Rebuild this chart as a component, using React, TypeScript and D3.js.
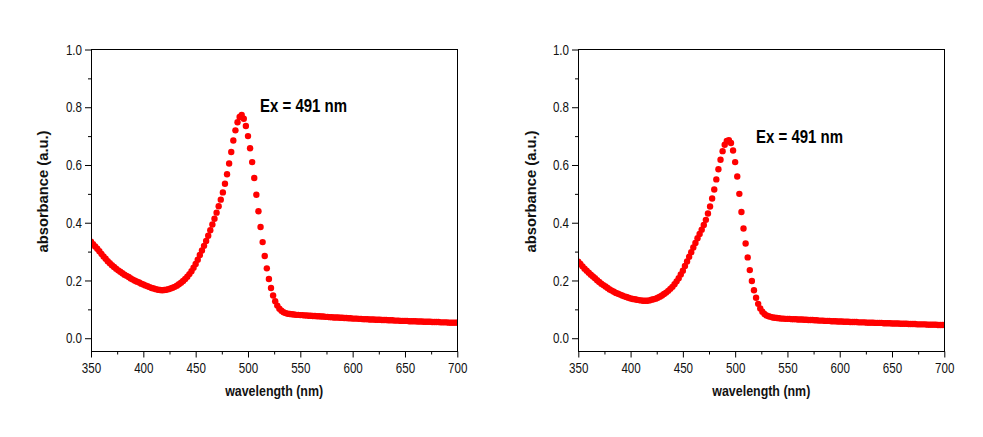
import { useEffect, useRef } from 'react'
import * as d3 from 'd3'

// wavelength grid of the measured spectra (nm)
const WAVELENGTH = d3.range(350, 701, 2)

// absorbance, left spectrum (one value per 2 nm, 350..700)
const ABS_LEFT = [
  0.334, 0.326, 0.318, 0.310, 0.301, 0.292, 0.283, 0.275, 0.267, 0.260,
  0.253, 0.247, 0.241, 0.235, 0.230, 0.225, 0.220, 0.216, 0.212, 0.207,
  0.203, 0.199, 0.196, 0.193, 0.189, 0.186, 0.183, 0.180, 0.177, 0.174,
  0.172, 0.170, 0.168, 0.167, 0.166, 0.167, 0.168, 0.170, 0.172, 0.175,
  0.178, 0.182, 0.187, 0.192, 0.198, 0.205, 0.213, 0.222, 0.232, 0.244,
  0.257, 0.272, 0.288, 0.304, 0.320, 0.337, 0.355, 0.374, 0.394, 0.414,
  0.435, 0.457, 0.480, 0.505, 0.535, 0.568, 0.605, 0.645, 0.685, 0.720,
  0.748, 0.766, 0.773, 0.760, 0.735, 0.700, 0.658, 0.610, 0.555, 0.497,
  0.440, 0.385, 0.333, 0.285, 0.242, 0.205, 0.174, 0.148, 0.128, 0.113,
  0.102, 0.095, 0.090, 0.087, 0.085, 0.084, 0.083, 0.082, 0.081, 0.081,
  0.080, 0.080, 0.079, 0.079, 0.078, 0.078, 0.077, 0.077, 0.076, 0.076,
  0.075, 0.075, 0.074, 0.074, 0.073, 0.073, 0.072, 0.072, 0.072, 0.071,
  0.071, 0.070, 0.070, 0.069, 0.069, 0.068, 0.068, 0.068, 0.067, 0.067,
  0.066, 0.066, 0.066, 0.065, 0.065, 0.065, 0.064, 0.064, 0.064, 0.063,
  0.063, 0.063, 0.062, 0.062, 0.062, 0.061, 0.061, 0.061, 0.060, 0.060,
  0.060, 0.060, 0.059, 0.059, 0.059, 0.059, 0.058, 0.058, 0.058, 0.057,
  0.057, 0.057, 0.057, 0.056, 0.056, 0.056, 0.056, 0.055, 0.055, 0.055,
  0.055, 0.054, 0.054, 0.054, 0.054, 0.054,
]

// absorbance, right spectrum
const ABS_RIGHT = [
  0.265, 0.257, 0.249, 0.241, 0.234, 0.227, 0.220, 0.214, 0.208, 0.201,
  0.195, 0.189, 0.184, 0.179, 0.174, 0.169, 0.165, 0.161, 0.157, 0.154,
  0.151, 0.148, 0.145, 0.143, 0.140, 0.138, 0.136, 0.135, 0.133, 0.132,
  0.131, 0.130, 0.130, 0.130, 0.131, 0.133, 0.135, 0.137, 0.140, 0.144,
  0.148, 0.153, 0.158, 0.164, 0.171, 0.178, 0.187, 0.197, 0.208, 0.221,
  0.234, 0.250, 0.266, 0.282, 0.298, 0.314, 0.330, 0.346, 0.361, 0.376,
  0.392, 0.410, 0.432, 0.456, 0.484, 0.515, 0.550, 0.585, 0.618, 0.648,
  0.670, 0.683, 0.686, 0.676, 0.650, 0.610, 0.560, 0.500, 0.437, 0.380,
  0.328, 0.280, 0.236, 0.198, 0.166, 0.140, 0.119, 0.103, 0.092, 0.084,
  0.079, 0.076, 0.074, 0.072, 0.071, 0.070, 0.069, 0.068, 0.068, 0.067,
  0.067, 0.067, 0.066, 0.066, 0.066, 0.065, 0.065, 0.065, 0.064, 0.064,
  0.063, 0.063, 0.063, 0.062, 0.062, 0.061, 0.061, 0.061, 0.060, 0.060,
  0.060, 0.059, 0.059, 0.059, 0.058, 0.058, 0.058, 0.057, 0.057, 0.057,
  0.056, 0.056, 0.056, 0.056, 0.055, 0.055, 0.055, 0.055, 0.054, 0.054,
  0.054, 0.054, 0.053, 0.053, 0.053, 0.053, 0.052, 0.052, 0.052, 0.052,
  0.051, 0.051, 0.051, 0.051, 0.050, 0.050, 0.050, 0.050, 0.049, 0.049,
  0.049, 0.049, 0.048, 0.048, 0.048, 0.048, 0.048, 0.047, 0.047, 0.047,
  0.047, 0.047, 0.046, 0.046, 0.046, 0.046,
]

const X_TICKS = [350, 400, 450, 500, 550, 600, 650, 700]
const X_MINOR = [375, 425, 475, 525, 575, 625, 675]
const Y_TICKS = [0, 0.2, 0.4, 0.6, 0.8, 1.0]
const Y_MINOR = [0.1, 0.3, 0.5, 0.7, 0.9]
const X_TITLE = 'wavelength (nm)'
const Y_TITLE = 'absorbance (a.u.)'
const NOTE = 'Ex = 491 nm'

const W = 983
const H = 437
const TOP = 49.5
const BOTTOM = 351.5
const FONT = '"Liberation Sans", Arial, Helvetica, sans-serif'
const SX = 0.8 // tick labels are horizontally condensed

const PANELS = [
  { id: 'l', values: ABS_LEFT, left: 91, right: 457.3, titleX: 48, noteX: 260, noteY: 111.7 },
  { id: 'r', values: ABS_RIGHT, left: 578.3, right: 944.3, titleX: 535.5, noteX: 756, noteY: 142.7 },
]

export default function App() {
  const svgRef = useRef<SVGSVGElement>(null)

  useEffect(() => {
    if (!svgRef.current) return
    const svg = d3.select(svgRef.current)
    svg.selectAll('*').remove()
    svg.append('rect').attr('width', W).attr('height', H).attr('fill', '#fff')

    PANELS.forEach(p => {
      const x = d3.scaleLinear().domain([350, 700]).range([p.left, p.right])
      const y = d3.scaleLinear().domain([-0.046, 1]).range([BOTTOM, TOP])
      const g = svg.append('g')

      g.append('clipPath').attr('id', `clip-${p.id}`)
        .append('rect')
        .attr('x', x(350)).attr('y', TOP)
        .attr('width', x(700) - x(350)).attr('height', BOTTOM - TOP)

      // data points
      g.append('g').attr('clip-path', `url(#clip-${p.id})`)
        .selectAll('circle')
        .data(WAVELENGTH.map((w, i) => [w, p.values[i]] as [number, number]))
        .join('circle')
        .attr('cx', d => x(d[0]))
        .attr('cy', d => y(d[1]))
        .attr('r', 3.2)
        .attr('fill', '#ff0000')

      // frame
      g.append('rect')
        .attr('x', Math.round(x(350)) + 0.5).attr('y', TOP)
        .attr('width', Math.round(x(700) - x(350))).attr('height', BOTTOM - TOP)
        .attr('fill', 'none').attr('stroke', '#000').attr('stroke-width', 1)

      // x axis
      g.append('g')
        .attr('transform', `translate(0,${BOTTOM})`)
        .call(d3.axisBottom(x).tickValues(X_MINOR).tickSize(3).tickFormat(() => ''))
        .call(a => { a.select('.domain').remove() })
      const xa = g.append('g')
        .attr('transform', `translate(0,${BOTTOM})`)
        .call(d3.axisBottom(x).tickValues(X_TICKS).tickSize(6).tickFormat(d3.format('d')))
        .attr('font-family', FONT).attr('font-size', 14.5)
      xa.select('.domain').remove()
      xa.selectAll('text').attr('y', 21.5).attr('dy', null).attr('fill', '#111')
        .attr('transform', `scale(${SX},1)`)

      // y axis
      g.append('g')
        .attr('transform', `translate(${Math.round(x(350))},0)`)
        .call(d3.axisLeft(y).tickValues(Y_MINOR).tickSize(3).tickFormat(() => ''))
        .call(a => { a.select('.domain').remove() })
      const ya = g.append('g')
        .attr('transform', `translate(${Math.round(x(350))},0)`)
        .call(d3.axisLeft(y).tickValues(Y_TICKS).tickSize(6).tickFormat(d3.format('.1f')))
        .attr('font-family', FONT).attr('font-size', 14.5)
      ya.select('.domain').remove()
      ya.selectAll('text').attr('x', -9 / SX).attr('fill', '#111')
        .attr('transform', `scale(${SX},1)`)

      // axis titles
      g.append('text')
        .attr('transform', `translate(${p.titleX},${(TOP + BOTTOM) / 2 - 9}) rotate(-90)`)
        .attr('text-anchor', 'middle')
        .attr('font-family', FONT).attr('font-weight', 'bold').attr('font-size', 14.5)
        .attr('textLength', 122).attr('lengthAdjust', 'spacingAndGlyphs')
        .attr('fill', '#111')
        .text(Y_TITLE)
      g.append('text')
        .attr('x', (x(350) + x(700)) / 2).attr('y', 396)
        .attr('text-anchor', 'middle')
        .attr('font-family', FONT).attr('font-weight', 'bold').attr('font-size', 14.5)
        .attr('textLength', 98).attr('lengthAdjust', 'spacingAndGlyphs')
        .attr('fill', '#111')
        .text(X_TITLE)

      // annotation
      g.append('text')
        .attr('x', p.noteX).attr('y', p.noteY)
        .attr('font-family', FONT).attr('font-weight', 'bold').attr('font-size', 18.5)
        .attr('textLength', 87).attr('lengthAdjust', 'spacingAndGlyphs')
        .attr('fill', '#000')
        .text(NOTE)
    })
  }, [])

  return (
    <svg
      ref={svgRef}
      width={W}
      height={H}
      style={{ position: 'absolute', left: 0, top: 0, display: 'block' }}
    />
  )
}
